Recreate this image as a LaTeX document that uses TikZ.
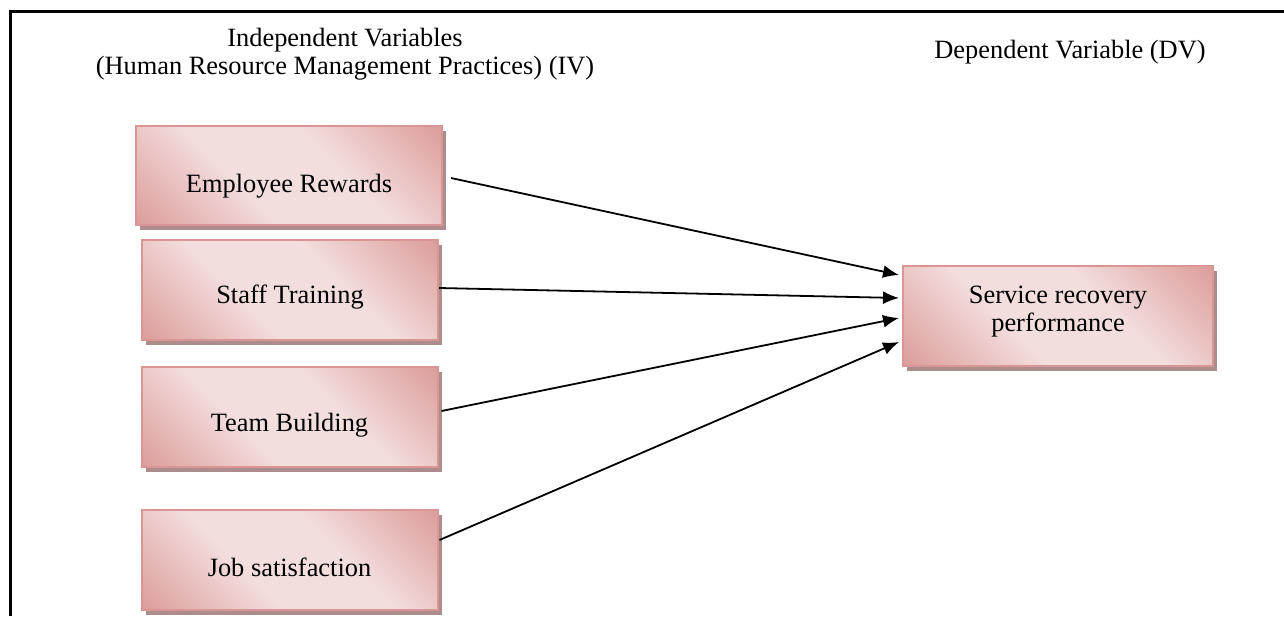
\documentclass[tikz,border=0pt]{standalone}
\usepackage{fontspec}
\setmainfont{Liberation Serif}
\usepackage{tikz}
\usetikzlibrary{arrows.meta}
\usetikzlibrary{shadows}
\usetikzlibrary{calc}
\definecolor{pinkdark}{RGB}{217,150,148}
\definecolor{pinklight}{RGB}{243,222,222}
\definecolor{shadowcol}{RGB}{172,140,140}
\pgfdeclarehorizontalshading{pinkband}{100bp}{color(0bp)=(pinkdark); color(12bp)=(pinkdark); color(40bp)=(pinklight); color(60bp)=(pinklight); color(88bp)=(pinkdark); color(100bp)=(pinkdark)}

\begin{document}
\begin{tikzpicture}[x=0.5pt, y=-0.5pt, font=\fontsize{13.2}{14.2}\selectfont,
	varbox/.style={draw=pinkdark, line width=1pt, shading=pinkband, shading angle=45,
		drop shadow={shadow xshift=2pt, shadow yshift=-2.5pt, fill=shadowcol, opacity=1},
		minimum width=148pt, minimum height=50pt, inner sep=0pt},
	lbl/.style={align=center, inner sep=0pt},
	link/.style={line width=0.9pt, -{Latex[length=8pt,width=6.5pt]}}]
	\useasboundingbox (0,0) rectangle (1284,616);
	\draw[line width=1.5pt] (10,616) -- (10,11) -- (1284,11);

	\node[lbl] (ivtitle) at (345,54) {Independent Variables\\(Human Resource Management Practices) (IV)};
	\node[lbl] (dvtitle) at (1070,52) {Dependent Variable (DV)};

	\node[varbox, minimum width=153pt, minimum height=49.5pt,
		label={[lbl, yshift=-5.5pt]center:Employee Rewards}] (rewards) at (289,175.5) {};
	\node[varbox, label={[lbl, yshift=-4pt]center:Staff Training}] (training) at (290,289.5) {};
	\node[varbox, label={[lbl, yshift=-4pt]center:Team Building}] (team) at (289.5,417) {};
	\node[varbox, label={[lbl, yshift=-4pt]center:Job satisfaction}] (satisfaction) at (289.5,559.5) {};
	\node[varbox, minimum width=155pt,
		label={[lbl, yshift=2pt]center:Service recovery\\performance}] (recovery) at (1058,315.5) {};

	\draw[link] ($(rewards.east)+(8,2.5)$) -- ($(recovery.west)+(-3,-40.5)$);
	\draw[link] ($(training.east)+(0,-1.5)$) -- ($(recovery.west)+(-3,-17.5)$);
	\draw[link] ($(team.east)+(3,-6)$) -- ($(recovery.west)+(-3,2.5)$);
	\draw[link] ($(satisfaction.east)+(1,-19.5)$) -- ($(recovery.west)+(-3,26.5)$);
\end{tikzpicture}
\end{document}
